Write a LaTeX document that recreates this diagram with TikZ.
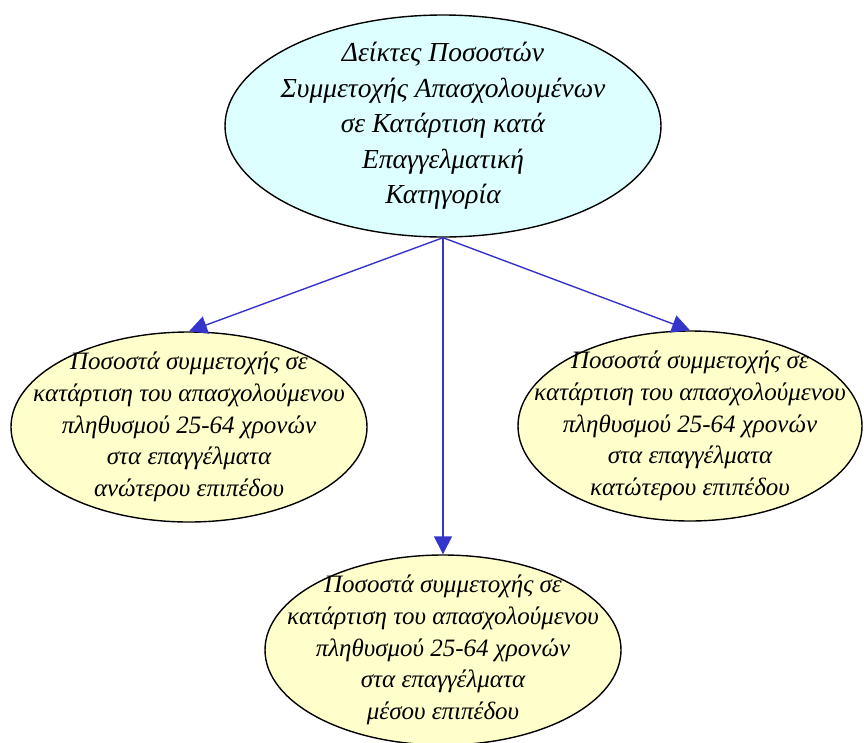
\documentclass[tikz,border=0pt]{standalone}
\usepackage{fontspec}
\setmainfont{Liberation Serif}
\usepackage{xcolor}
\usetikzlibrary{shapes.geometric, arrows.meta, positioning}

\definecolor{headfill}{HTML}{DDFFFF}
\definecolor{leaffill}{HTML}{FFFFCC}
\definecolor{linkblue}{HTML}{3535CC}

\tikzset{
    head/.style={ellipse, draw, line width=1.4pt, fill=headfill,
        inner xsep=-40pt, inner ysep=-25pt,
        minimum width=436pt, minimum height=222pt, align=center,
        font=\fontsize{27.5}{35.5}\selectfont\itshape},
    leaf/.style={ellipse, draw, line width=1.4pt, fill=leaffill,
        inner xsep=-45pt, inner ysep=-20pt,
        minimum width=356pt, minimum height=190pt, align=center,
        font=\fontsize{25}{31.7}\selectfont\itshape},
    link/.style={draw=linkblue, line width=1.4pt,
        -{Triangle[length=18pt, width=18pt, fill=linkblue]}}
}

\begin{document}
\begin{tikzpicture}[x=1pt, y=-1pt]
        \useasboundingbox (0,0) rectangle (864,742);

        \node[head] (top)   at (443,126) {Δείκτες Ποσοστών\\Συμμετοχής Απασχολουμένων\\σε Κατάρτιση κατά\\Επαγγελματική\\Κατηγορία};
        \node[leaf] (high)  at (189,427) {Ποσοστά συμμετοχής σε\\κατάρτιση του απασχολούμενου\\πληθυσμού 25-64 χρονών\\στα επαγγέλματα\\ανώτερου επιπέδου};
        \node[leaf, minimum width=344pt] (low) at (690,426) {Ποσοστά συμμετοχής σε\\κατάρτιση του απασχολούμενου\\πληθυσμού 25-64 χρονών\\στα επαγγέλματα\\κατώτερου επιπέδου};
        \node[leaf] (mid)   at (443,650) {Ποσοστά συμμετοχής σε\\κατάρτιση του απασχολούμενου\\πληθυσμού 25-64 χρονών\\στα επαγγέλματα\\μέσου επιπέδου};

        \draw[link] (top.south) -- (high.north);
        \draw[link] (top.south) -- (mid.north);
        \draw[link] (top.south) -- (low.north);
\end{tikzpicture}
\end{document}
